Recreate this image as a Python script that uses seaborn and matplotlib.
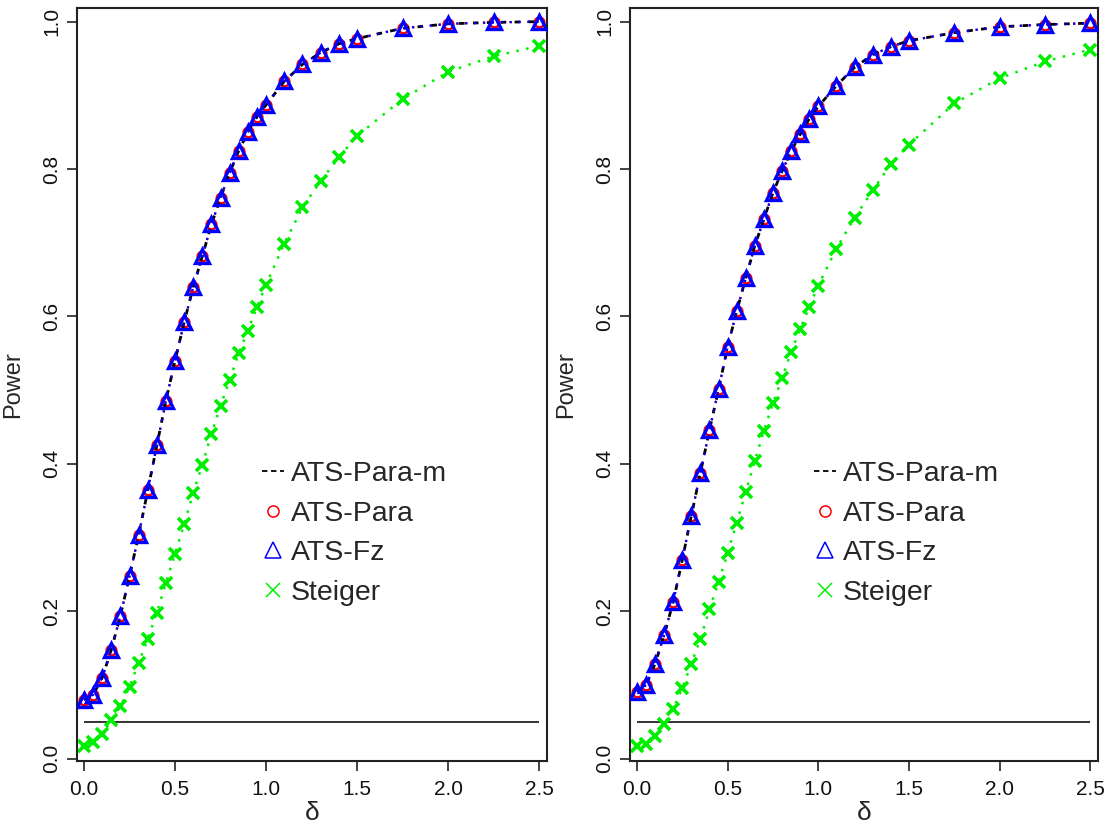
import matplotlib
matplotlib.use("Agg")
import matplotlib.pyplot as plt
from matplotlib.lines import Line2D
import numpy as np
import pandas as pd
import seaborn as sns

# Shift in correlation (delta) at which power was evaluated
delta = [0.00, 0.05, 0.10, 0.15, 0.20, 0.25, 0.30, 0.35, 0.40, 0.45,
         0.50, 0.55, 0.60, 0.65, 0.70, 0.75, 0.80, 0.85, 0.90, 0.95,
         1.00, 1.10, 1.20, 1.30, 1.40, 1.50, 1.75, 2.00, 2.25, 2.50]

# Left panel
left_ats_para_m = [0.080, 0.087, 0.110, 0.148, 0.194, 0.248, 0.303, 0.364, 0.425, 0.486,
                   0.540, 0.592, 0.640, 0.682, 0.725, 0.761, 0.795, 0.825, 0.850, 0.871,
                   0.887, 0.919, 0.942, 0.958, 0.970, 0.977, 0.991, 0.997, 0.999, 1.000]
left_ats_para = [0.080, 0.087, 0.110, 0.148, 0.194, 0.248, 0.303, 0.364, 0.425, 0.486,
                 0.540, 0.592, 0.640, 0.682, 0.725, 0.761, 0.795, 0.825, 0.850, 0.871,
                 0.887, 0.919, 0.942, 0.958, 0.970, 0.977, 0.991, 0.997, 0.999, 1.000]
left_ats_fz = [0.080, 0.087, 0.110, 0.148, 0.194, 0.248, 0.303, 0.364, 0.425, 0.486,
               0.540, 0.592, 0.640, 0.682, 0.725, 0.761, 0.795, 0.825, 0.850, 0.871,
               0.887, 0.919, 0.942, 0.958, 0.970, 0.977, 0.991, 0.997, 0.999, 1.000]
left_steiger = [0.018, 0.023, 0.033, 0.052, 0.071, 0.098, 0.130, 0.163, 0.198, 0.239,
                0.278, 0.318, 0.361, 0.399, 0.441, 0.479, 0.514, 0.550, 0.581, 0.613,
                0.643, 0.699, 0.748, 0.784, 0.816, 0.845, 0.895, 0.932, 0.953, 0.967]

# Right panel
right_ats_para_m = [0.091, 0.100, 0.129, 0.168, 0.213, 0.270, 0.330, 0.388, 0.446, 0.501,
                    0.559, 0.607, 0.652, 0.696, 0.732, 0.768, 0.797, 0.824, 0.847, 0.868,
                    0.885, 0.913, 0.938, 0.955, 0.966, 0.974, 0.985, 0.993, 0.996, 0.998]
right_ats_para = [0.091, 0.100, 0.129, 0.168, 0.213, 0.270, 0.330, 0.388, 0.446, 0.501,
                  0.559, 0.607, 0.652, 0.696, 0.732, 0.768, 0.797, 0.824, 0.847, 0.868,
                  0.885, 0.913, 0.938, 0.955, 0.966, 0.974, 0.985, 0.993, 0.996, 0.998]
right_ats_fz = [0.091, 0.100, 0.129, 0.168, 0.213, 0.270, 0.330, 0.388, 0.446, 0.501,
                0.559, 0.607, 0.652, 0.696, 0.732, 0.768, 0.797, 0.824, 0.847, 0.868,
                0.885, 0.913, 0.938, 0.955, 0.966, 0.974, 0.985, 0.993, 0.996, 0.998]
right_steiger = [0.018, 0.020, 0.031, 0.047, 0.068, 0.096, 0.129, 0.163, 0.203, 0.240,
                 0.279, 0.320, 0.362, 0.404, 0.445, 0.482, 0.516, 0.552, 0.583, 0.613,
                 0.642, 0.692, 0.734, 0.771, 0.807, 0.833, 0.889, 0.923, 0.946, 0.962]

alpha_level = 0.05
method_labels = ["ATS-Para-m", "ATS-Para", "ATS-Fz", "Steiger"]
x_ticks = [0.0, 0.5, 1.0, 1.5, 2.0, 2.5]
y_ticks = [0.0, 0.2, 0.4, 0.6, 0.8, 1.0]

sns.set_theme(style="white")
plt.rcParams["font.family"] = ["Liberation Sans", "DejaVu Sans"]
plt.rcParams["axes.edgecolor"] = "#222222"

RED, BLUE, GREEN = "#FF0000", "#0000FF", "#00EE00"
DOT = (0, (1, 3))
DASH = (0, (2, 3))


def panel(ax, para_m, para, fz, steiger):
    df = pd.DataFrame({"delta": delta, "para_m": para_m, "para": para,
                       "fz": fz, "steiger": steiger})
    ax.hlines(alpha_level, delta[0], delta[-1], color="#333333", lw=1.4, zorder=1)
    sns.lineplot(data=df, x="delta", y="steiger", ax=ax, color=GREEN, lw=1.8,
                 linestyle=DOT, marker="x", markersize=8, markeredgewidth=2.6,
                 markeredgecolor=GREEN, legend=False, zorder=2)
    sns.lineplot(data=df, x="delta", y="para", ax=ax, color=RED, lw=1.6,
                 linestyle=DOT, marker="o", markersize=7, markerfacecolor="none",
                 markeredgecolor=RED, markeredgewidth=1.8, legend=False, zorder=3)
    sns.lineplot(data=df, x="delta", y="fz", ax=ax, color=BLUE, lw=1.6,
                 linestyle=DOT, marker="^", markersize=10, markerfacecolor="none",
                 markeredgecolor=BLUE, markeredgewidth=2.4, legend=False, zorder=4)
    sns.lineplot(data=df, x="delta", y="para_m", ax=ax, color="black", lw=2.0,
                 linestyle=DASH, legend=False, zorder=3.5)

    ax.set_xlim(-0.0385, 2.543)
    ax.set_ylim(-0.003, 1.0185)
    ax.set_xticks(x_ticks)
    ax.set_xticklabels([f"{v:.1f}" for v in x_ticks])
    ax.set_yticks(y_ticks)
    ax.set_yticklabels([f"{v:.1f}" for v in y_ticks], rotation=90, va="center")
    ax.tick_params(axis="both", which="major", direction="out", length=7.5,
                   width=1.2, color="#222222", labelsize=15, labelcolor="#111111",
                   left=True, bottom=True)
    ax.tick_params(axis="x", pad=6)
    ax.tick_params(axis="y", pad=4)
    for side in ax.spines.values():
        side.set_visible(True)
        side.set_linewidth(1.5)
        side.set_color("#222222")

    ax.set_xlabel("δ", fontsize=19)
    ax.set_ylabel("Power", fontsize=17)
    ax.xaxis.set_label_coords(0.5, -0.053)
    ax.yaxis.set_label_coords(-0.112, 0.5)

    handles = [
        Line2D([], [], color="black", lw=1.3, linestyle=(0, (3, 2))),
        Line2D([], [], color=RED, lw=0, marker="o", markersize=8,
               markerfacecolor="none", markeredgewidth=1.1),
        Line2D([], [], color=BLUE, lw=0, marker="^", markersize=12,
               markerfacecolor="none", markeredgewidth=1.1),
        Line2D([], [], color=GREEN, lw=0, marker="x", markersize=10,
               markeredgewidth=1.1),
    ]
    ax.legend(handles, method_labels, loc="upper left",
              bbox_to_anchor=(0.394, 0.399), frameon=False, fontsize=20.5,
              handlelength=0.75, handletextpad=0.25, labelspacing=0.49,
              borderpad=0, borderaxespad=0)


fig = plt.figure(figsize=(11.09, 8.32), dpi=100)
ax_left = fig.add_axes([77 / 1109, 1 - 761 / 832, 470 / 1109, 753 / 832])
ax_right = fig.add_axes([630 / 1109, 1 - 761 / 832, 468 / 1109, 753 / 832])

panel(ax_left, left_ats_para_m, left_ats_para, left_ats_fz, left_steiger)
panel(ax_right, right_ats_para_m, right_ats_para, right_ats_fz, right_steiger)

fig.savefig("out.png", dpi=100, facecolor="white")
